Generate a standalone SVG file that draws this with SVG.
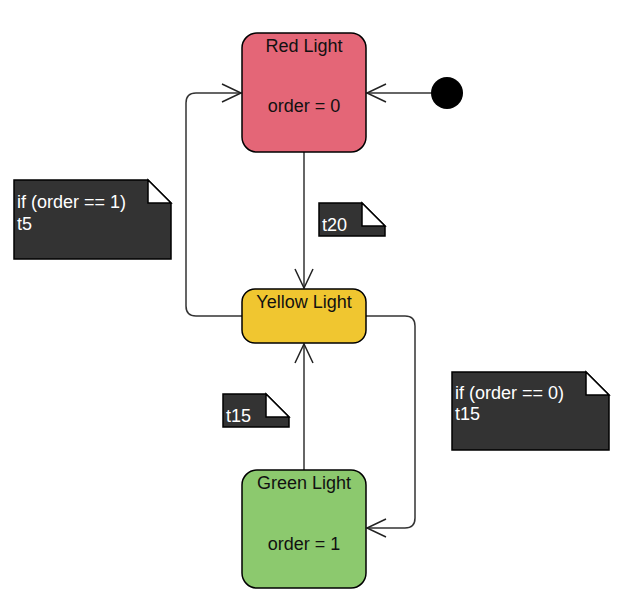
<svg xmlns="http://www.w3.org/2000/svg" width="629" height="606" viewBox="0 0 629 606">
<style>
.state{stroke:#000;stroke-width:1.5}
.lbl{font-family:"Liberation Sans",Arial,sans-serif;font-size:18px;fill:#111;text-anchor:middle}
.note{fill:#333;stroke:#000;stroke-width:1.5}
.fold{fill:#fff;stroke:#000;stroke-width:1.5}
.nt{font-family:"Liberation Sans",Arial,sans-serif;font-size:18px;fill:#fff}
.edge{fill:none;stroke:#333;stroke-width:1.5}
.ah{fill:none;stroke:#222;stroke-width:1.5}
</style>
<rect width="629" height="606" fill="#fff"/>
<g id="connectors">
<path class="edge" d="M431 93 H367"/>
<path class="ah" d="M386 84 L367 93 L386 102"/>
<path class="edge" d="M304 152 V288"/>
<path class="ah" d="M295 269 L304 288 L313 269"/>
<path class="edge" d="M304 470 V344"/>
<path class="ah" d="M295 363 L304 344 L313 363"/>
<path class="edge" d="M242 316 H196 Q186 316 186 306 V103 Q186 93 196 93 H241"/>
<path class="ah" d="M222 84 L241 93 L222 102"/>
<path class="edge" d="M366 316 H405 Q415 316 415 326 V518 Q415 528 405 528 H367"/>
<path class="ah" d="M386 519 L367 528 L386 537"/>
</g>
<g id="initial"><circle cx="447" cy="93" r="16" fill="#000"/></g>
<g id="red">
<rect class="state" x="242" y="33" width="124" height="119" rx="15" fill="#e46677"/>
<text class="lbl" x="304" y="52">Red Light</text>
<text class="lbl" x="304" y="112">order = 0</text>
</g>
<g id="yellow">
<rect class="state" x="242" y="289" width="124" height="54" rx="13" fill="#f0c630"/>
<text class="lbl" x="304" y="308">Yellow Light</text>
</g>
<g id="green">
<rect class="state" x="242" y="470" width="124" height="118" rx="15" fill="#8cc96e"/>
<text class="lbl" x="304" y="489">Green Light</text>
<text class="lbl" x="304" y="550">order = 1</text>
</g>
<g id="note1">
<path class="note" d="M14 180 H148 L171 203 V259 H14 Z"/>
<path class="fold" d="M148 180 V203 H171 Z"/>
<text class="nt" x="17" y="208">if (order == 1)</text>
<text class="nt" x="17" y="230">t5</text>
</g>
<g id="note_t20">
<path class="note" d="M319 203 H362 L385 226 V236 H319 Z"/>
<path class="fold" d="M362 203 V226 H385 Z"/>
<text class="nt" x="322" y="231">t20</text>
</g>
<g id="note_t15">
<path class="note" d="M223 394 H266 L289 417 V427 H223 Z"/>
<path class="fold" d="M266 394 V417 H289 Z"/>
<text class="nt" x="226" y="422">t15</text>
</g>
<g id="note2">
<path class="note" d="M452 372 H586 L609 395 V450 H452 Z"/>
<path class="fold" d="M586 372 V395 H609 Z"/>
<text class="nt" x="455" y="399">if (order == 0)</text>
<text class="nt" x="455" y="420">t15</text>
</g>
</svg>
